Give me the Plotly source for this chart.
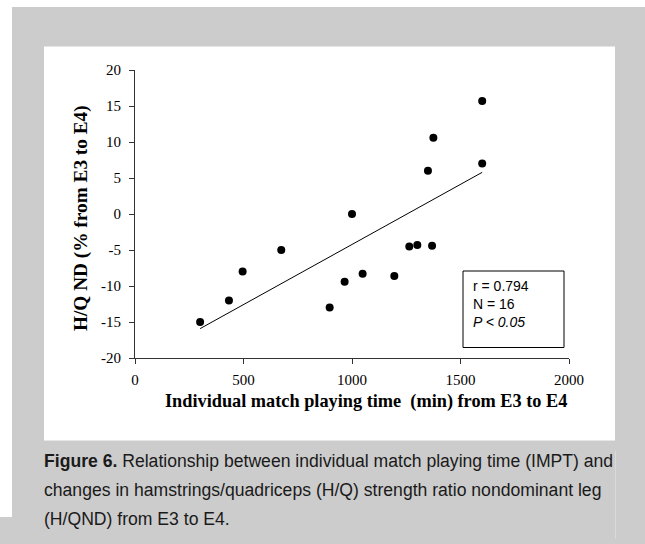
import numpy as np
import plotly.graph_objects as go

# Data
playing_time = [300, 433, 496, 674, 897, 966, 1049, 1000, 1195, 1264, 1301, 1369, 1600, 1375, 1350, 1600]
hq_nd_change = [-15.0, -12.0, -8.0, -5.0, -13.0, -9.4, -8.3, 0.0, -8.6, -4.5, -4.3, -4.4, 15.7, 10.6, 6.0, 7.0]
x_ticks = [0, 500, 1000, 1500, 2000]
x_tick_labels = ["0", "500", "1000", "1500", "2000"]
y_ticks = [-20, -15, -10, -5, 0, 5, 10, 15, 20]
y_tick_labels = ["-20", "-15", "-10", "-5", "0", "5", "10", "15", "20"]
stats_lines = ["r = 0.794", "N = 16", "<i>P < 0.05</i>"]
caption_lines = [
    "<b>Figure 6.</b> Relationship between individual match playing time (IMPT) and",
    "changes in hamstrings/quadriceps (H/Q) strength ratio nondominant leg",
    "(H/QND) from E3 to E4.",
]

W, H = 645, 544
L, R, T, B = 135, 569, 70, 358


def px(x):
    return (x - L) / (R - L)


def py(y):
    return (B - y) / (B - T)


slope, intercept = np.polyfit(playing_time, hq_nd_change, 1)
fit_x = [min(playing_time), max(playing_time)]
fit_y = [slope * v + intercept for v in fit_x]

fig = go.Figure()
fig.add_trace(go.Scatter(x=fit_x, y=fit_y, mode="lines",
                         line=dict(color="black", width=1), hoverinfo="skip"))
fig.add_trace(go.Scatter(x=playing_time, y=hq_nd_change, mode="markers",
                         marker=dict(color="black", size=8)))

GRAY = "#cccccc"
shapes = [
    dict(type="rect", xref="paper", yref="paper", x0=px(12), x1=px(646), y0=py(7), y1=py(545),
         fillcolor=GRAY, line=dict(width=0), layer="below"),
    dict(type="rect", xref="paper", yref="paper", x0=px(-1), x1=px(12), y0=py(517), y1=py(545),
         fillcolor=GRAY, line=dict(width=0), layer="below"),
    dict(type="rect", xref="paper", yref="paper", x0=px(44), x1=px(615), y0=py(46.5), y1=py(440.5),
         fillcolor="white", line=dict(width=0), layer="below"),
    dict(type="line", xref="paper", yref="paper", x0=px(615.5), x1=px(615.5), y0=py(451), y1=py(539),
         line=dict(color="#dadada", width=1), layer="below"),
    dict(type="rect", xref="paper", yref="paper", x0=px(463), x1=px(564), y0=py(271), y1=py(347.5),
         fillcolor="white", line=dict(color="black", width=1)),
]

SERIF = "Liberation Serif"
annotations = [
    dict(text="<br>".join(stats_lines), xref="paper", yref="paper", x=px(471), y=py(276),
         xanchor="left", yanchor="top", align="left", showarrow=False,
         font=dict(family="Liberation Sans", size=14, color="black")),
    dict(text="<b>Individual match playing time\u00a0 (min) from E3 to E4</b>", xref="paper", yref="paper",
         x=px(366), y=py(401), xanchor="center", yanchor="middle", showarrow=False,
         font=dict(family=SERIF, size=18.3, color="black")),
    dict(text="<b>H/Q ND (% from E3 to E4)</b>", xref="paper", yref="paper",
         x=px(81), y=py(218), xanchor="center", yanchor="middle", textangle=-90, showarrow=False,
         font=dict(family=SERIF, size=19.3, color="black")),
]
for i, line in enumerate(caption_lines):
    annotations.append(dict(text=line, xref="paper", yref="paper", x=px(42), y=py(461 + 29 * i),
                            xanchor="left", yanchor="middle", showarrow=False,
                            font=dict(family="Liberation Sans", size=17.6, color="#1a1a1a")))

axis_common = dict(showgrid=False, zeroline=False, showline=True, linecolor="#333333", linewidth=1,
                   ticks="outside", ticklen=5, tickcolor="#333333", tickwidth=1,
                   tickfont=dict(family=SERIF, size=15, color="black"))

fig.update_layout(
    width=W, height=H,
    margin=dict(l=L, r=W - R, t=T, b=H - B, pad=0),
    paper_bgcolor="white", plot_bgcolor="rgba(0,0,0,0)",
    font=dict(family=SERIF),
    showlegend=False,
    xaxis=dict(range=[0, 2000], tickvals=x_ticks, ticktext=x_tick_labels, ticklabelstandoff=3,
               **axis_common),
    yaxis=dict(range=[-20, 20], tickvals=y_ticks, ticktext=y_tick_labels, ticklabelstandoff=5,
               **axis_common),
    shapes=shapes, annotations=annotations,
)

fig.write_html("out.html")
